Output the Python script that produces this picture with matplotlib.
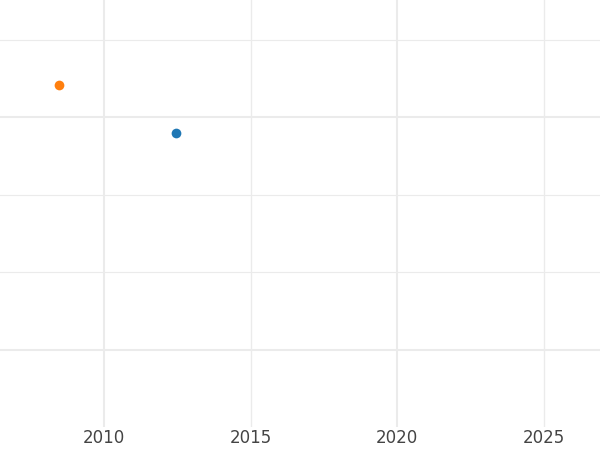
import matplotlib
matplotlib.use('Agg')
import matplotlib.pyplot as plt
from matplotlib.ticker import FixedLocator

# data
series_names = ['A', 'B']
years = [2012.45, 2008.45]
values = [3.795, 4.415]
colors = ['#1f77b4', '#ff7f0e']

x_major = [2010, 2020]
x_minor = [2015, 2025]
x_labels = ['2010', '2015', '2020', '2025']
y_major = [1, 4]
y_minor = [2, 3, 5]

plt.rcParams['font.family'] = 'DejaVu Sans'

fig = plt.figure(figsize=(6, 4.5), dpi=100)
ax = fig.add_axes([0, 23 / 450, 1, 427 / 450])

for name, x, y, c in zip(series_names, years, values, colors):
    ax.plot([x], [y], 'o', color=c, markersize=7, markeredgewidth=0, label=name, zorder=3)

ax.set_xlim(2006.45, 2026.91)
ax.set_ylim(0, 5.517)

ax.xaxis.set_major_locator(FixedLocator(sorted(x_major + x_minor)))
ax.set_xticklabels(x_labels)
ax.xaxis.set_minor_locator(FixedLocator([]))
ax.yaxis.set_major_locator(FixedLocator(y_major))
ax.yaxis.set_minor_locator(FixedLocator(y_minor))
ax.set_yticklabels([])

# grid: thicker lines at the major positions, thin ones elsewhere
for xv in x_major:
    ax.axvline(xv, color='#ebebeb', lw=1.5, zorder=1)
for xv in x_minor:
    ax.axvline(xv, color='#ebebeb', lw=1.0, zorder=1)
for yv in y_major:
    ax.axhline(yv, color='#ebebeb', lw=1.5, zorder=1)
for yv in y_minor:
    ax.axhline(yv, color='#ebebeb', lw=0.8, zorder=1)

ax.tick_params(axis='both', which='both', length=0)
ax.tick_params(axis='x', labelsize=12, labelcolor='#444444', pad=1.5)
ax.tick_params(axis='y', labelleft=False)

for s in ax.spines.values():
    s.set_visible(False)

fig.savefig('out.png', dpi=100)
